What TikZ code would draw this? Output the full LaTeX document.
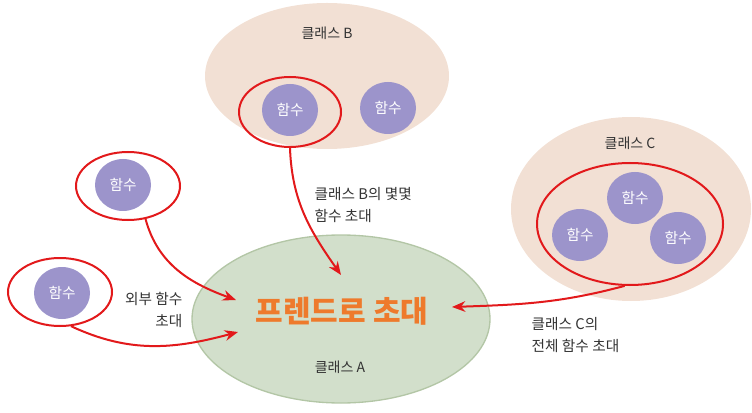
\documentclass[tikz,border=0pt]{standalone}
\usepackage{fontspec}
\setmainfont{Noto Sans CJK KR}
\usetikzlibrary{shapes.geometric,arrows.meta}
\definecolor{classpeach}{HTML}{F2E0D4}
\definecolor{classgreen}{HTML}{D2DFCB}
\definecolor{classgreenline}{HTML}{B3C6A6}
\definecolor{funcpurple}{HTML}{9C94CB}
\definecolor{invred}{HTML}{E2191B}
\definecolor{friendorange}{HTML}{EE7A2C}
\definecolor{labelgray}{HTML}{333333}
\begin{document}
\begin{tikzpicture}[
    x=0.75pt, y=-0.75pt,
    classBox/.style={
        ellipse, inner sep=0pt, fill=classpeach
    },
    funcBox/.style={
        ellipse, inner sep=0pt, fill=funcpurple,
        minimum width=42pt, minimum height=39pt,
        text=white, font=\fontsize{11}{13}\selectfont
    },
    ringBox/.style={
        ellipse, inner sep=0pt, draw=invred, line width=1.5pt
    },
    classLabel/.style={text=labelgray, font=\fontsize{10.5}{12}\selectfont},
    noteLabel/.style={text=labelgray, font=\fontsize{11}{16}\selectfont},
    invite/.style={draw=invred, line width=1.5pt,
        -{Stealth[length=10pt,width=8pt]}}
]
    \useasboundingbox (0,0) rectangle (752,413);

    % --- Class B ---
    \node[classBox, minimum width=183pt, minimum height=109.5pt] (classB) at (327,76) {};
    \node[classLabel] (classBname) at (327,33) {클래스 B};
    \node[funcBox] (funcB1) at (290,110) {함수};
    \node[funcBox] (funcB2) at (388,108) {함수};
    \node[ringBox, minimum width=76.5pt, minimum height=52.5pt] (ringB) at (290,112) {};

    % --- Class C ---
    \node[classBox, minimum width=180pt, minimum height=138pt] (classC) at (631,209) {};
    \node[classLabel] (classCname) at (630,143) {클래스 C};
    \node[funcBox] (funcC1) at (635,198) {함수};
    \node[funcBox] (funcC2) at (580,235) {함수};
    \node[funcBox] (funcC3) at (678,238) {함수};
    \node[ringBox, minimum width=139.5pt, minimum height=91.5pt] (ringC) at (630,224) {};

    % --- Class A ---
    \node[ellipse, inner sep=0pt, fill=classgreen, draw=classgreenline, line width=1pt,
          minimum width=223.5pt, minimum height=126pt] (classA) at (341,319) {};
    \node[text=friendorange, font=\fontsize{22.5}{26}\selectfont\bfseries] (friend) at (342,311) {프렌드로 초대};
    \node[classLabel] (classAname) at (340,367) {클래스 A};

    % --- external functions ---
    \node[funcBox] (funcX1) at (123,185) {함수};
    \node[ringBox, minimum width=78pt, minimum height=51pt] (ringX1) at (128,186) {};
    \node[funcBox] (funcX2) at (62,293) {함수};
    \node[ringBox, minimum width=78pt, minimum height=51pt] (ringX2) at (60,292) {};

    % --- targets inside class A ---
    \coordinate (tipB) at (341,275);
    \coordinate (tipX1) at (236,300);
    \coordinate (tipX2) at (238,332);
    \coordinate (tipC) at (452,307);

    % --- invitations ---
    \draw[invite] (ringB.south) to[out=-88,in=125] (tipB);
    \draw[invite] (ringX1.-62) to[out=-75,in=160] (tipX1);
    \draw[invite] (ringX2.-72) to[out=-25,in=195] (tipX2);
    \draw[invite] (ringC.-95) to[out=195,in=2] (tipC);

    % --- notes ---
    \node[noteLabel, align=left, anchor=west] (noteB) at (310,205) {클래스 B의 몇몇\\함수 초대};
    \node[noteLabel, align=right, anchor=east] (noteX) at (187,310) {외부 함수\\초대};
    \node[noteLabel, align=left, anchor=west] (noteC) at (527,335) {클래스 C의\\전체 함수 초대};
\end{tikzpicture}
\end{document}
